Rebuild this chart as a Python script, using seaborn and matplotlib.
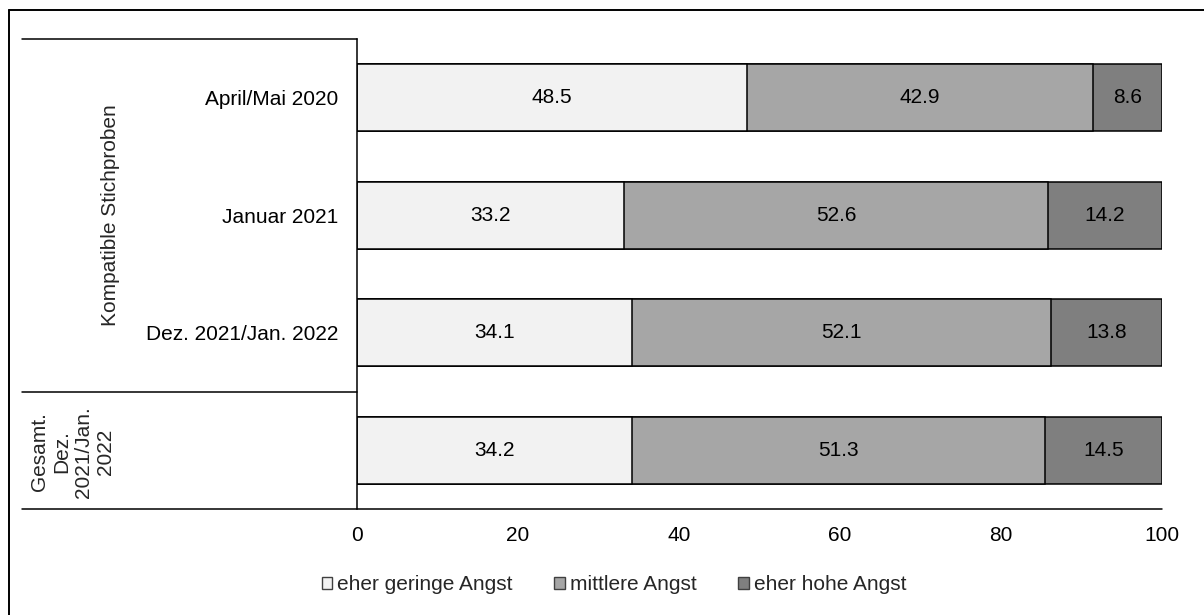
import pandas as pd
import seaborn as sns
import matplotlib.pyplot as plt
from matplotlib.lines import Line2D
from matplotlib.patches import Patch

# values (percent)
zeitpunkte = ['April/Mai 2020', 'Januar 2021', 'Dez. 2021/Jan. 2022', 'Gesamt Dez. 2021/Jan. 2022']
tick_labels = ['April/Mai 2020', 'Januar 2021', 'Dez. 2021/Jan. 2022', '']
geringe = [48.5, 33.2, 34.1, 34.2]
mittlere = [42.9, 52.6, 52.1, 51.3]
hohe = [8.6, 14.2, 13.8, 14.5]
serien = ['eher geringe Angst', 'mittlere Angst', 'eher hohe Angst']
farben = ['#f2f2f2', '#a6a6a6', '#7f7f7f']

sns.set_theme(style='white')
plt.rcParams['font.family'] = ['Liberation Sans', 'DejaVu Sans']
FS = 15

df = pd.DataFrame({'zeit': zeitpunkte, 'geringe': geringe,
                   'mittlere': mittlere, 'hohe': hohe})
df['cum1'] = df['geringe']
df['cum2'] = df['cum1'] + df['mittlere']
df['cum3'] = df['cum2'] + df['hohe']

W, H = 1204, 615
fig = plt.figure(figsize=(W / 100, H / 100), dpi=100)
ax = fig.add_axes([357 / W, 1 - 509 / H, (1162 - 357) / W, (509 - 39) / H])

# stacked bars: draw cumulative totals, longest first
for col, farbe in zip(['cum3', 'cum2', 'cum1'], farben[::-1]):
    sns.barplot(data=df, x=col, y='zeit', orient='h', color=farbe,
                width=0.57, edgecolor='black', linewidth=1.1,
                saturation=1, ax=ax)

# segment labels
starts = [[0] * len(df), df['cum1'].tolist(), df['cum2'].tolist()]
for vals, st in zip([geringe, mittlere, hohe], starts):
    for i, (v, s) in enumerate(zip(vals, st)):
        ax.text(s + v / 2, i, f'{v:.1f}', ha='center', va='center',
                fontsize=FS, color='black')

ax.set_xlim(0, 100)
ax.set_ylim(3.5, -0.5)
ax.set_xticks([0, 20, 40, 60, 80, 100])
ax.set_yticks(range(len(tick_labels)))
ax.set_yticklabels(tick_labels)
ax.set_xlabel('')
ax.set_ylabel('')
ax.tick_params(axis='x', length=0, pad=12, labelsize=FS, labelcolor='black')
ax.tick_params(axis='y', length=0, pad=13.5, labelsize=FS, labelcolor='black')
for s in ['top', 'right', 'bottom']:
    ax.spines[s].set_visible(False)
ax.spines['left'].set_color('black')
ax.spines['left'].set_linewidth(1.1)

# table lines on the left and axis baseline
def hline(y, x0, x1, lw=1.1):
    fig.add_artist(Line2D([x0 / W, x1 / W], [1 - y / H, 1 - y / H],
                          color='black', lw=lw))

hline(39, 22, 357)
hline(392, 22, 357)
hline(509, 22, 1162)

# group labels
fig.text(110 / W, 1 - 215 / H, 'Kompatible Stichproben', rotation=90,
         ha='center', va='center', fontsize=FS)
fig.text(73 / W, 1 - 452 / H, 'Gesamt.\nDez.\n2021/Jan.\n2022', rotation=90,
         ha='center', va='center', fontsize=FS, linespacing=1.2,
         multialignment='center')

# outer frame
fig.add_artist(Line2D([9 / W, 1], [1 - 10 / H, 1 - 10 / H], color='black', lw=1.4))
fig.add_artist(Line2D([9 / W, 9 / W], [1 - 10 / H, 0], color='black', lw=1.4))

handles = [Patch(facecolor=f, edgecolor='#404040', linewidth=1) for f in farben]
fig.legend(handles, serien, loc='center', bbox_to_anchor=(614 / W, 1 - 585 / H),
           ncol=3, frameon=False, fontsize=FS, handlelength=0.5, handleheight=0.5,
           handletextpad=0.25, columnspacing=2.0, borderpad=0)

fig.savefig('out.png', dpi=100)
